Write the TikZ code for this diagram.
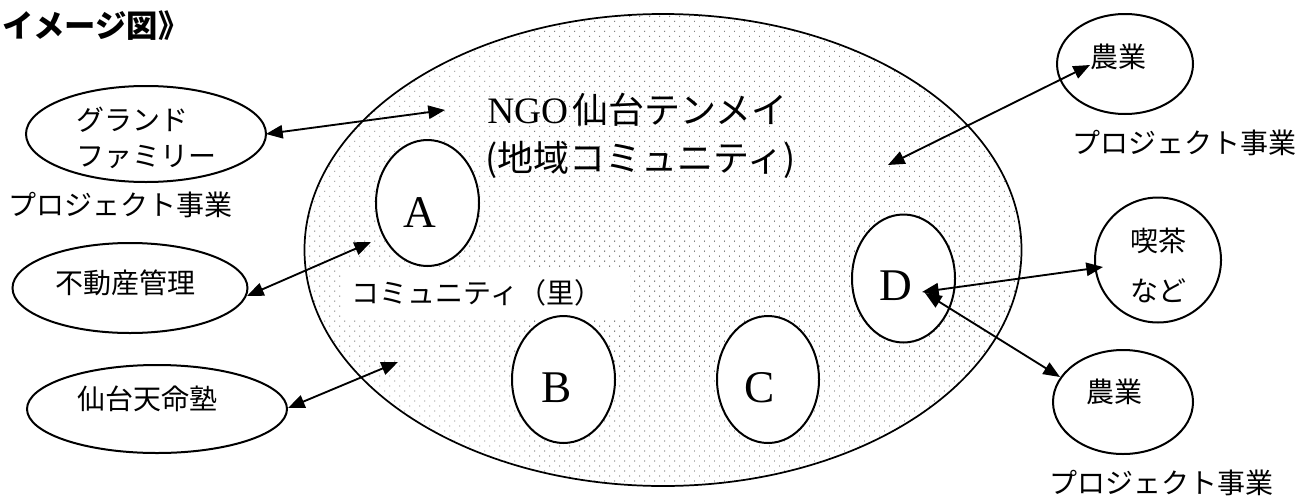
\documentclass[tikz,border=0pt]{standalone}
\usepackage{fontspec}
\setmainfont{Liberation Serif}
\newfontfamily\jp{Noto Sans CJK JP}
\usetikzlibrary{shapes.geometric,arrows.meta,patterns.meta}
\newlength\pxu \setlength\pxu{0.75pt}
\begin{document}
\begin{tikzpicture}[x=0.75pt,y=-0.75pt,
  ov/.style={ellipse, draw, line width=1.5pt, fill=white, inner sep=0pt},
  arr/.style={line width=1.4pt, {Triangle[length=12.5pt,width=10pt]}-{Triangle[length=12.5pt,width=10pt]}},
  jt/.style={font=\jp\fontsize{21}{27}\selectfont, inner sep=0pt},
  bigjt/.style={font=\jp\fontsize{27}{32}\selectfont, inner sep=0pt},
  lett/.style={font=\fontsize{34}{40}\selectfont, inner sep=0pt}]
\fill[white] (0,0) rectangle (1298,496);
\useasboundingbox (0,0) rectangle (1298,496);
% big community ellipse
\node (ngo) [ellipse, draw, line width=1.3pt, inner sep=0pt,
  minimum width=717\pxu, minimum height=472\pxu,
  pattern={Dots[distance=5.3pt, angle=45, radius=0.45pt]}, pattern color=black!75] at (663,250) {};
% white box for the sato label
\node (sato) [fill=white, inner sep=0pt, minimum width=288\pxu, minimum height=51\pxu,
  label={[jt, xshift=-9\pxu]center:コミュニティ（里）}] at (486,292.5) {};
% title
\node (title) [anchor=west, inner sep=0pt, font=\jp\bfseries\fontsize{23.5}{28}\selectfont] at (2,26) {イメージ図》};
% NGO text
\node (ngo1) [anchor=west, inner sep=0pt] at (487,110) {\fontsize{28}{32}\selectfont NGO\hspace{3pt}{\jp\fontsize{27}{32}\selectfont 仙台テンメイ}};
\node (ngo2) [bigjt, anchor=west] at (485,160) {(地域コミュニティ)};
% inner ellipses
\node (A) [ov, minimum width=103\pxu, minimum height=126\pxu,
  label={[lett, xshift=-8\pxu, yshift=-10\pxu]center:A}] at (427.5,203) {};
\node (B) [ov, minimum width=103\pxu, minimum height=127\pxu,
  label={[lett, xshift=-7\pxu, yshift=-8\pxu]center:B}] at (563.5,379.5) {};
\node (C) [ov, minimum width=102\pxu, minimum height=127\pxu,
  label={[lett, xshift=-8\pxu, yshift=-8\pxu]center:C}] at (768,379.5) {};
\node (D) [ov, minimum width=103\pxu, minimum height=128\pxu,
  label={[lett, xshift=-8\pxu, yshift=-7\pxu]center:D}] at (903.5,278.5) {};
% left ellipses
\node (gf) [ov, minimum width=240\pxu, minimum height=96\pxu,
  label={[jt, align=left, yshift=-4\pxu]center:グランド\\ファミリー}] at (146,134) {};
\node (pj1) [jt] at (120,205) {プロジェクト事業};
\node (fd) [ov, minimum width=235\pxu, minimum height=90\pxu,
  label={[jt, xshift=-5\pxu, yshift=5\pxu]center:不動産管理}] at (130,288) {};
\node (st) [ov, minimum width=260\pxu, minimum height=88\pxu,
  label={[jt, xshift=-10\pxu, yshift=10\pxu]center:仙台天命塾}] at (157,409) {};
% right ellipses
\node (nu1) [ov, minimum width=136\pxu, minimum height=100\pxu,
  label={[jt, xshift=-7\pxu, yshift=7\pxu]center:農業}] at (1125,64) {};
\node (pj2) [jt] at (1184,143) {プロジェクト事業};
\node (ks) [ov, minimum width=126\pxu, minimum height=125\pxu,
  label={[jt, align=center, yshift=-5\pxu, font=\jp\fontsize{21}{37.5}\selectfont]center:喫茶\\など}] at (1158,260) {};
\node (nu2) [ov, minimum width=140\pxu, minimum height=104\pxu,
  label={[jt, xshift=-9\pxu, yshift=10\pxu]center:農業}] at (1123,402) {};
\node (pj3) [jt] at (1161,483) {プロジェクト事業};
% arrow end points
\coordinate (e1) at (445,110);
\coordinate (g1) at (266,134);
\coordinate (f1) at (247,296);
\coordinate (e2) at (371,242);
\coordinate (s1) at (288,408);
\coordinate (e3) at (398,362);
\coordinate (e4) at (888,165);
\coordinate (n1) at (1090,65);
\coordinate (d1) at (922,292);
\coordinate (k1) at (1103,267);
\coordinate (d2) at (925,293);
\coordinate (n2) at (1060,377);
% arrows
\draw[arr] (g1) -- (e1);
\draw[arr] (f1) -- (e2);
\draw[arr] (s1) -- (e3);
\draw[arr] (e4) -- (n1);
\draw[arr] (d1) -- (k1);
\draw[arr] (d2) -- (n2);
\end{tikzpicture}
\end{document}
